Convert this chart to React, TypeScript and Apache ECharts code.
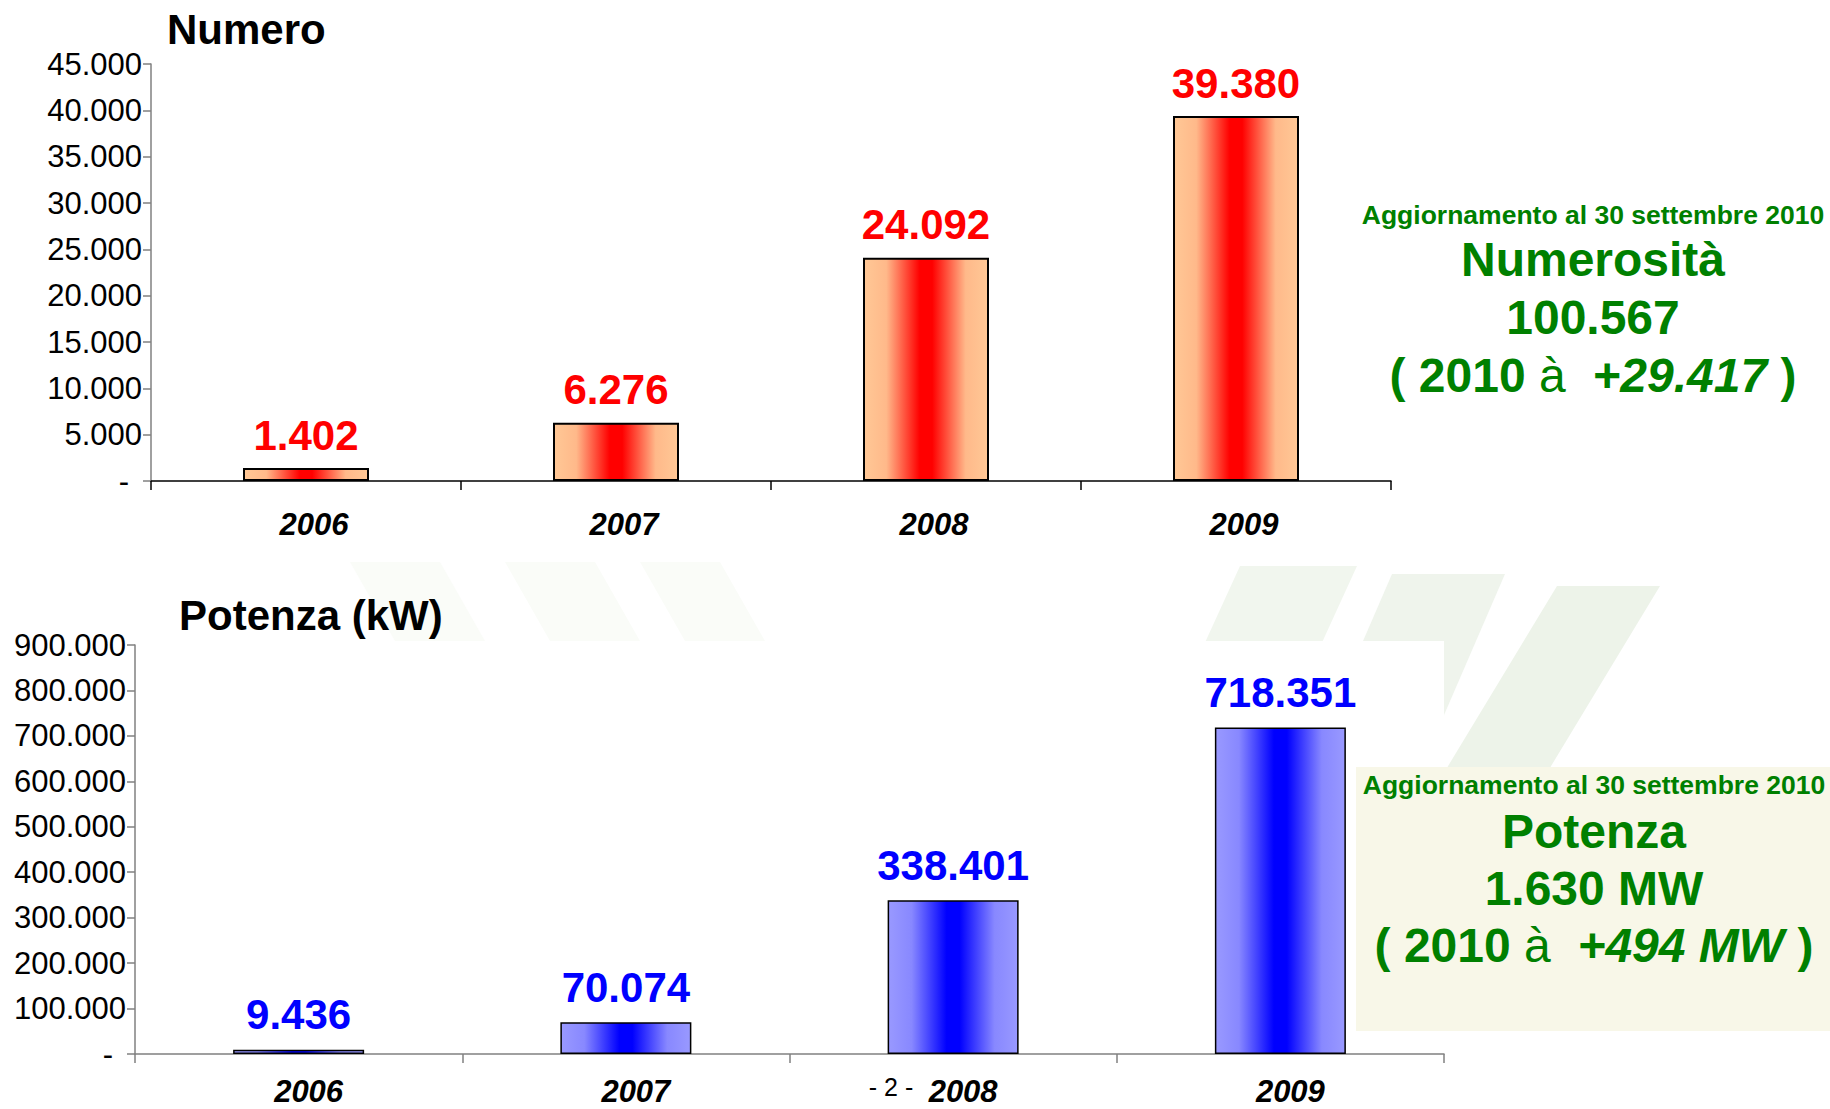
import React, { useEffect, useRef } from "react";
import * as echarts from "echarts";

// Anni di riferimento
const years = ["2006", "2007", "2008", "2009"];
// Numero di impianti per anno
const numeroImpianti = [1402, 6276, 24092, 39380];
// Potenza installata per anno (kW)
const potenzaKW = [9436, 70074, 338401, 718351];

// Scale degli assi
const numeroMax = 45000;
const numeroStep = 5000;
const potenzaMax = 900000;
const potenzaStep = 100000;

// Titoli dei grafici
const titoloNumero = "Numero";
const titoloPotenza = "Potenza (kW)";

// Riquadri riepilogativi
const notaAggiornamento = "Aggiornamento al 30 settembre 2010";
const numeroRiepilogo = ["Numerosità", "100.567", "( 2010 ", "à", "+29.417", " )"];
const potenzaRiepilogo = ["Potenza", "1.630 MW", "( 2010 ", "à", "+494 MW", " )"];
const numeroPagina = "- 2 -";

const FONT = "'Liberation Sans', Arial, Helvetica, sans-serif";
const GREEN = "#008000";

const fmt = (v: number) =>
  String(Math.round(v)).replace(/\B(?=(\d{3})+(?!\d))/g, ".");

const tickFormatter = (v: number) => (v === 0 ? "{d|-}" : fmt(v));

function hGradient(edge: string, mid: string, center: string) {
  return new echarts.graphic.LinearGradient(0, 0, 1, 0, [
    { offset: 0, color: edge },
    { offset: 0.18, color: mid },
    { offset: 0.45, color: center },
    { offset: 0.5, color: center },
    { offset: 0.55, color: center },
    { offset: 0.82, color: mid },
    { offset: 1, color: edge },
  ]);
}

function summaryBlock(lines: string[], cx: number, ys: number[]) {
  const big = 48;
  return [
    {
      type: "text",
      x: cx,
      y: ys[0],
      style: {
        text: notaAggiornamento,
        fontFamily: FONT,
        fontSize: 26.5,
        fontWeight: "bold",
        fill: GREEN,
        align: "center",
        verticalAlign: "middle",
      },
      z: 5,
    },
    {
      type: "text",
      x: cx,
      y: ys[1],
      style: {
        text: lines[0],
        fontFamily: FONT,
        fontSize: big,
        fontWeight: "bold",
        fill: GREEN,
        align: "center",
        verticalAlign: "middle",
      },
      z: 5,
    },
    {
      type: "text",
      x: cx,
      y: ys[2],
      style: {
        text: lines[1],
        fontFamily: FONT,
        fontSize: big,
        fontWeight: "bold",
        fill: GREEN,
        align: "center",
        verticalAlign: "middle",
      },
      z: 5,
    },
    {
      type: "text",
      x: cx,
      y: ys[3],
      style: {
        text: `{b|${lines[2]}}{r|${lines[3]}}{b|  }{i|${lines[4]}}{b|${lines[5]}}`,
        fontFamily: FONT,
        fontSize: big,
        align: "center",
        verticalAlign: "middle",
        rich: {
          b: { fontFamily: FONT, fontSize: big, fontWeight: "bold", fill: GREEN },
          r: { fontFamily: FONT, fontSize: big, fontWeight: "normal", fill: GREEN },
          i: {
            fontFamily: FONT,
            fontSize: big,
            fontWeight: "bold",
            fontStyle: "italic",
            fill: GREEN,
          },
        },
      },
      z: 5,
    },
  ];
}

function stripe(pts: number[][], fill: string) {
  return { type: "polygon", shape: { points: pts }, style: { fill }, z: -2 };
}

export default function App() {
  const ref = useRef<HTMLDivElement>(null);

  useEffect(() => {
    if (!ref.current) return;
    const chart = echarts.init(ref.current, null, { renderer: "svg" });

    const redGrad = hGradient("#ffc896", "#ffb98a", "#ff0000");
    const blueGrad = hGradient("#9999ff", "#8888ff", "#0000ff");

    const yAxisCommon = (max: number, step: number, gridIndex: number, lineColor: string) => ({
      type: "value",
      gridIndex,
      min: 0,
      max,
      interval: step,
      splitLine: { show: false },
      axisLine: { show: true, lineStyle: { color: lineColor, width: 1.5 } },
      axisTick: { show: true, length: 8, lineStyle: { color: lineColor, width: 1.5 } },
      axisLabel: {
        formatter: tickFormatter,
        fontFamily: FONT,
        fontSize: 31,
        color: "#000",
        margin: 9,
        rich: { d: { fontFamily: FONT, fontSize: 31, color: "#000", padding: [0, 13, 0, 0] } },
      },
    });

    const xAxisCommon = (gridIndex: number, lineColor: string, margin: number, shift: number) => ({
      type: "category",
      gridIndex,
      data: years,
      axisLine: { show: true, lineStyle: { color: lineColor, width: 1.5 } },
      axisTick: { show: true, length: 9, lineStyle: { color: lineColor, width: 1.5 } },
      axisLabel: {
        fontFamily: FONT,
        fontSize: 31,
        fontWeight: "bold",
        fontStyle: "italic",
        color: "#000",
        margin,
        padding: [0, 0, 0, shift],
      },
    });

    const barLabel = (color: string, distance: number) => ({
      show: true,
      position: "top",
      distance,
      formatter: (p: any) => fmt(p.value),
      color,
      fontFamily: FONT,
      fontSize: 42,
      fontWeight: "bold",
    });

    const option: any = {
      animation: false,
      backgroundColor: "#ffffff",
      grid: [
        { left: 151, top: 64, width: 1240, height: 417 },
        { left: 135, top: 645, width: 1309, height: 409 },
      ],
      xAxis: [xAxisCommon(0, "#000000", 28, 16), xAxisCommon(1, "#808080", 22, 20)],
      yAxis: [
        yAxisCommon(numeroMax, numeroStep, 0, "#808080"),
        yAxisCommon(potenzaMax, potenzaStep, 1, "#808080"),
      ],
      series: [
        {
          type: "bar",
          xAxisIndex: 0,
          yAxisIndex: 0,
          data: numeroImpianti,
          barWidth: 126,
          itemStyle: { color: redGrad, borderColor: "#000", borderWidth: 2 },
          label: barLabel("#ff0000", 12),
          z: 3,
        },
        {
          type: "bar",
          xAxisIndex: 1,
          yAxisIndex: 1,
          data: potenzaKW,
          barWidth: 131,
          itemStyle: { color: blueGrad, borderColor: "#000", borderWidth: 1.5 },
          label: barLabel("#0000ff", 14),
          z: 3,
        },
      ],
      graphic: [
        // logo in filigrana
        stripe([[350, 562], [440, 562], [485, 641], [395, 641]], "#fafcf8"),
        stripe([[505, 562], [595, 562], [640, 641], [550, 641]], "#fafcf8"),
        stripe([[640, 562], [720, 562], [765, 641], [685, 641]], "#fafcf8"),
        stripe([[1240, 566], [1357, 566], [1250, 800], [1133, 800]], "#f1f6ee"),
        stripe([[1392, 574], [1505, 574], [1390, 840], [1277, 840]], "#eff4ec"),
        stripe([[1557, 586], [1660, 586], [1470, 900], [1367, 900]], "#edf3e9"),
        // sfondo del grafico inferiore
        { type: "rect", shape: { x: 0, y: 641, width: 1444, height: 468 }, style: { fill: "#ffffff" }, z: -1 },
        // riquadro della potenza
        { type: "rect", shape: { x: 1356, y: 767, width: 474, height: 264 }, style: { fill: "#f8f7e8" }, z: -1 },
        {
          type: "text",
          x: 167,
          y: 29,
          style: {
            text: titoloNumero,
            fontFamily: FONT,
            fontSize: 42,
            fontWeight: "bold",
            fill: "#000",
            align: "left",
            verticalAlign: "middle",
          },
          z: 5,
        },
        {
          type: "text",
          x: 179,
          y: 615,
          style: {
            text: titoloPotenza,
            fontFamily: FONT,
            fontSize: 42,
            fontWeight: "bold",
            fill: "#000",
            align: "left",
            verticalAlign: "middle",
          },
          z: 5,
        },
        {
          type: "text",
          x: 891,
          y: 1087,
          style: {
            text: numeroPagina,
            fontFamily: FONT,
            fontSize: 25,
            fill: "#000",
            align: "center",
            verticalAlign: "middle",
          },
          z: 5,
        },
        ...summaryBlock(numeroRiepilogo, 1593, [215, 259, 317, 375]),
        ...summaryBlock(potenzaRiepilogo, 1594, [785, 831, 888, 945]),
      ],
    };

    chart.setOption(option);
    return () => chart.dispose();
  }, []);

  return (
    <div
      ref={ref}
      style={{ position: "absolute", left: 0, top: 0, width: 1830, height: 1109 }}
    />
  );
}
